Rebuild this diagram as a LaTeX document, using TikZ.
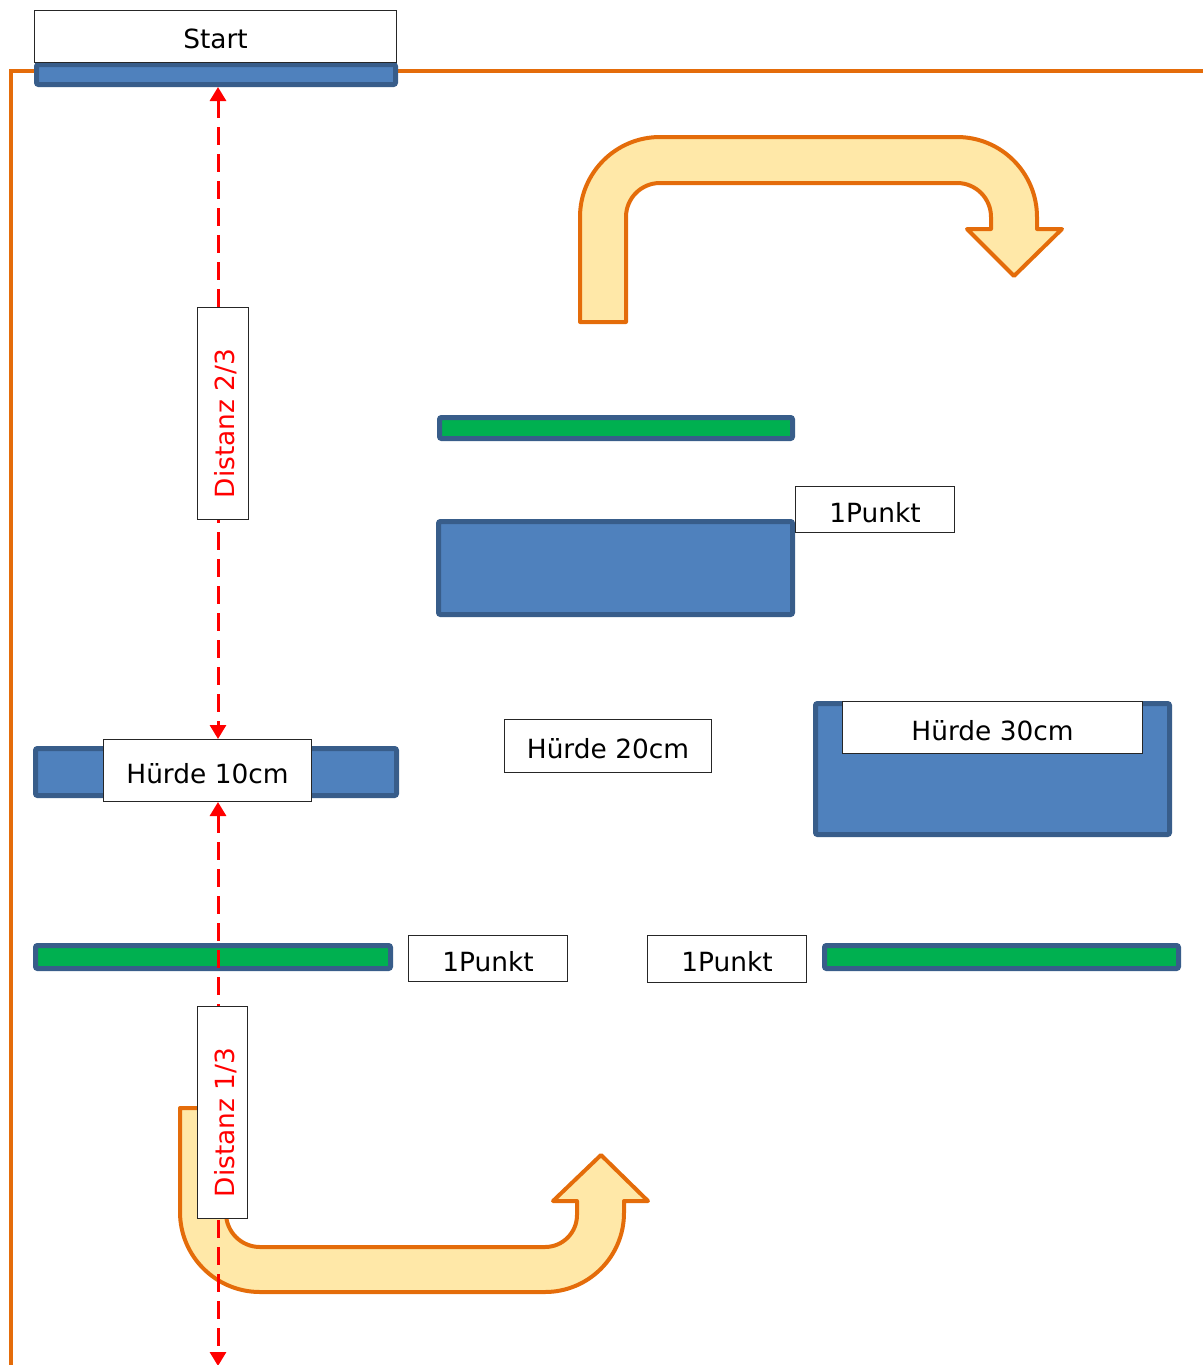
\documentclass[tikz,border=0pt]{standalone}
\usepackage{fontspec}
\setmainfont{DejaVu Sans}
\usetikzlibrary{arrows.meta,fit}
\definecolor{barblue}{HTML}{4F81BD}
\definecolor{barline}{HTML}{385D8A}
\definecolor{bargreen}{HTML}{00B050}
\definecolor{track}{HTML}{E46C0A}
\definecolor{turnfill}{HTML}{FFE8A8}
\begin{document}
\begin{tikzpicture}[x=0.75pt,y=-0.75pt,
  bigtext/.style={font=\fontsize{19.8pt}{24pt}\selectfont},
  bar/.style={draw=barline, line width=3.75pt, rounded corners=1.5pt, inner sep=0pt},
  bluebar/.style={bar, fill=barblue},
  greenbar/.style={bar, fill=bargreen},
  tag/.style={draw=black!85, fill=white, line width=0.75pt, inner sep=0pt},
  tagtext/.style={label={[bigtext, inner sep=0pt, yshift=-2pt]center:#1}},
  distlabel/.style={red, rotate=90, inner sep=0pt, bigtext},
  turn/.style={draw=track, fill=turnfill, line width=3pt, line join=round},
  measure/.style={draw=red, line width=2.25pt, dash pattern=on 13.5pt off 6.75pt,
    {Triangle[length=10.5pt,width=12pt]}-{Triangle[length=10.5pt,width=12pt]}}
]
\useasboundingbox (0,0) rectangle (1203,1365);

% course boundary
\draw[track, line width=3pt] (1210,71) -- (11,71) -- (11,1372);

% upper turning arrow
\draw[turn] (580,322) -- (580,217) .. controls (580,172.8) and (615.8,137) .. (660,137)
  -- (957,137) .. controls (1001.2,137) and (1037,172.8) .. (1037,217)
  -- (1037,229) -- (1062,229) -- (1014,276) -- (967,229) -- (991,229) -- (991,217)
  .. controls (991,198.2) and (975.8,183) .. (957,183) -- (660,183)
  .. controls (641.2,183) and (626,198.2) .. (626,217) -- (626,322) -- cycle;

% start line
\node[bluebar, fit={(36.5,64.5) (395.5,84.5)}] (startbar) {};
\node[tag, fit={(34.5,10.5) (396.5,62.5)}, tagtext=Start] (start) {};

% obstacles
\node[greenbar, fit={(439.5,417.5) (792.5,438.5)}] (green1) {};
\node[bluebar, fit={(438.5,521.5) (792.5,614.5)}] (midblock) {};
\node[tag, fit={(795.5,486.5) (954.5,532.5)}, tagtext=1Punkt] (p1) {};

\node[tag, fit={(504.5,719.5) (711.5,772.5)}, tagtext=Hürde 20cm] (h20) {};

\node[bluebar, fit={(815.5,703.5) (1169.5,834.5)}] (h30bar) {};
\node[tag, fit={(842.5,701.5) (1142.5,753.5)}, tagtext=Hürde 30cm] (h30) {};

\node[greenbar, fit={(35.5,945.5) (390.5,968.5)}] (green2) {};
\node[tag, fit={(408.5,935.5) (567.5,981.5)}, tagtext=1Punkt] (p2) {};
\node[tag, fit={(647.5,935.5) (806.5,982.5)}, tagtext=1Punkt] (p3) {};
\node[greenbar, fit={(824.5,945.5) (1178.5,968.5)}] (green3) {};

% lower turning arrow
\draw[turn] (180,1108) -- (226,1108) -- (226,1213)
  .. controls (226,1231.8) and (241.2,1247) .. (260,1247) -- (545,1247)
  .. controls (562.7,1247) and (577,1232.7) .. (577,1215)
  -- (577,1201) -- (553,1201) -- (601,1155) -- (648,1201) -- (624,1201) -- (624,1213)
  .. controls (624,1256.6) and (588.6,1292) .. (545,1292) -- (260,1292)
  .. controls (215.8,1292) and (180,1256.2) .. (180,1212) -- cycle;

% first hurdle
\node[bluebar, fit={(35.5,748.5) (396.5,795.5)}] (h10bar) {};
\node[tag, fit={(103.5,739.5) (311.5,801.5)}, tagtext=Hürde 10cm] (h10) {};

% distance markers
\coordinate (axis) at (218,0);
\coordinate (bottomend) at (218,1366);
\draw[measure] (startbar.south -| axis) -- (h10.north -| axis);
\draw[measure] (h10.south -| axis) -- (bottomend);

\node[tag, fit={(197.5,307.5) (248.5,519.5)}] (d23) {};
\node[distlabel] (d23t) at ([shift={(3,10)}]d23.center) {Distanz 2/3};
\node[tag, fit={(197.5,1006.5) (247.5,1218.5)}] (d13) {};
\node[distlabel] (d13t) at ([shift={(3,10)}]d13.center) {Distanz 1/3};
\end{tikzpicture}
\end{document}
